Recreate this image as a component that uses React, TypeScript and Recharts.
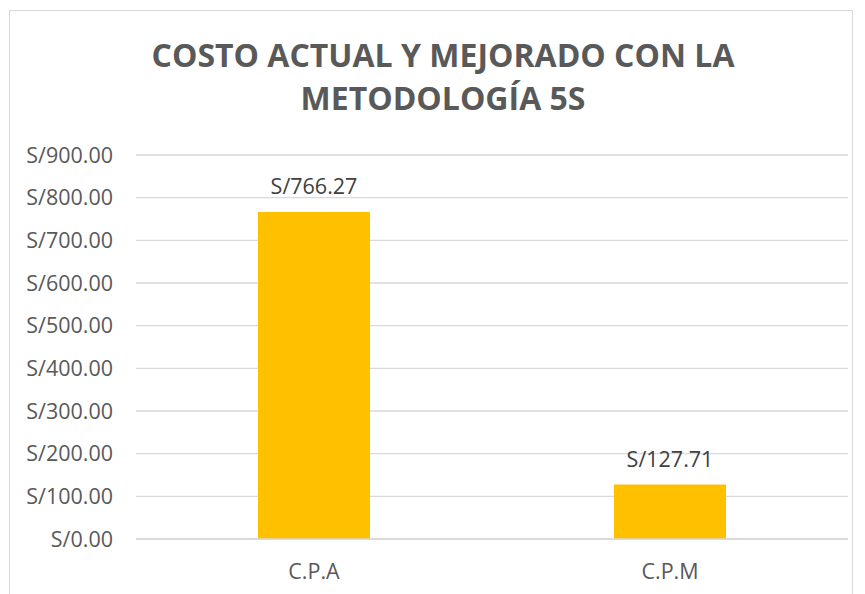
import { BarChart, Bar, XAxis, YAxis, CartesianGrid, LabelList } from 'recharts'

const categories = ['C.P.A', 'C.P.M']
const costs = [766.27, 127.71]
const yTicks = [0, 100, 200, 300, 400, 500, 600, 700, 800, 900]

const data = categories.map((name, i) => ({ name, cost: costs[i] }))

const FONT = "'Open Sans', sans-serif"
const money = (v: number) => `S/${v.toFixed(2)}`

export default function App() {
  return (
    <div style={{
      position: 'absolute', left: 9, top: 10, width: 844, height: 600,
      border: '1px solid #d9d9d9', boxSizing: 'border-box', background: '#fff',
      fontFamily: FONT,
    }}>
      <div style={{
        position: 'absolute', left: 24, right: 0, top: 22, textAlign: 'center',
        color: '#595959', fontWeight: 700, fontSize: 32, lineHeight: '43px',
      }}>
        COSTO ACTUAL Y MEJORADO CON LA<br />METODOLOGÍA 5S
      </div>
      <div style={{ position: 'absolute', left: 0, top: 0 }}>
        <BarChart width={842} height={584} data={data}
          margin={{ top: 144, right: 4, bottom: 26, left: 0 }}>
          <CartesianGrid vertical={false} stroke="#d9d9d9" strokeWidth={1.3} />
          <XAxis dataKey="name" axisLine={{ stroke: '#d9d9d9', strokeWidth: 1.3 }} tickLine={false}
            tickMargin={19} tick={{ fill: '#595959', fontSize: 21.5, fontFamily: FONT }} />
          <YAxis domain={[0, 900]} ticks={yTicks} width={126} axisLine={false} tickLine={false}
            tickSize={0} tickMargin={23} tickFormatter={money}
            tick={{ fill: '#595959', fontSize: 21.5, fontFamily: FONT }} />
          <Bar dataKey="cost" fill="#ffc000" barSize={112} isAnimationActive={false}>
            <LabelList dataKey="cost" position="top" offset={18} formatter={(v: any) => money(Number(v))}
              style={{ fill: '#404040', fontSize: 21.5, fontFamily: FONT }} />
          </Bar>
        </BarChart>
      </div>
    </div>
  )
}
